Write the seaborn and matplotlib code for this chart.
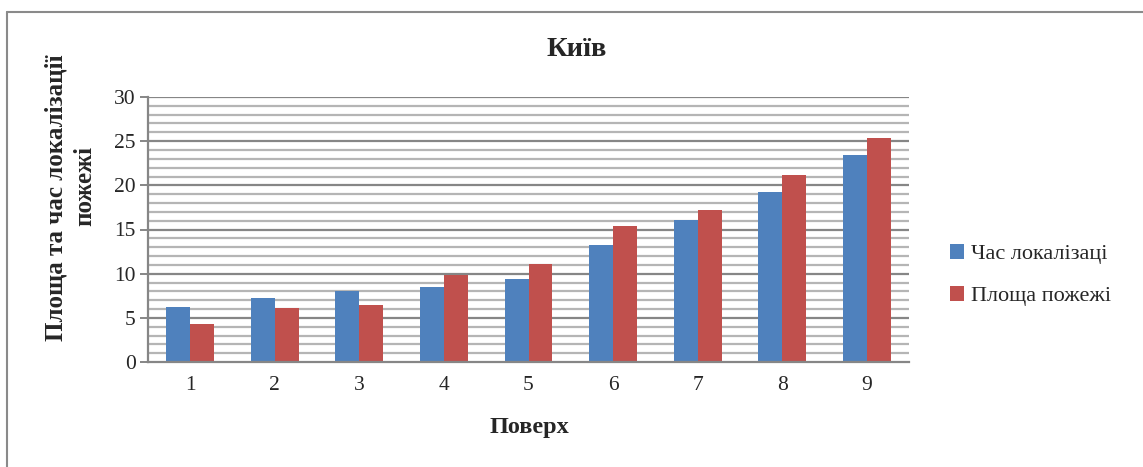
import matplotlib
matplotlib.use("Agg")
import matplotlib.pyplot as plt
import seaborn as sns
import pandas as pd
from matplotlib.lines import Line2D
from matplotlib.patches import Patch

floors = ["1", "2", "3", "4", "5", "6", "7", "8", "9"]
time_local = [6.2, 7.2, 8.0, 8.5, 9.4, 13.3, 16.1, 19.2, 23.4]
area_fire = [4.3, 6.1, 6.5, 9.8, 11.1, 15.4, 17.2, 21.2, 25.4]
series_names = ["Час локалізаці", "Площа пожежі"]
colors = ["#4F81BD", "#C0504D"]

df = pd.DataFrame({
    "floor": floors * 2,
    "value": time_local + area_fire,
    "series": [series_names[0]] * len(floors) + [series_names[1]] * len(floors),
})

sns.set_style("white")
plt.rcParams["font.family"] = ["Liberation Serif", "DejaVu Serif"]

fig = plt.figure(figsize=(11.43, 4.67), dpi=100)
ax = fig.add_axes([148 / 1143, 1 - 362 / 467, (909 - 148) / 1143, (362 - 97) / 467])

sns.barplot(data=df, x="floor", y="value", hue="series", palette=colors,
            width=0.567, gap=0, ax=ax, legend=False, edgecolor="none",
            saturation=1, zorder=3)

ax.set_ylim(0, 30)
ax.set_xlim(-0.5, 8.5)
ax.set_yticks(range(0, 31, 5))
ax.set_yticks(range(0, 31, 1), minor=True)
ax.grid(False)
for v in range(1, 31):
    if v % 5 == 0:
        ax.axhline(v, color="#868686", lw=1.6, zorder=1)
    else:
        ax.axhline(v, color="#b5b5b5", lw=1.6, zorder=1)

for s in ["top", "right"]:
    ax.spines[s].set_visible(False)
for s in ["left", "bottom"]:
    ax.spines[s].set_color("#868686")
    ax.spines[s].set_linewidth(1.6)
    ax.spines[s].set_zorder(4)

ax.tick_params(axis="y", which="major", direction="out", length=6, width=1.4,
               color="#868686", labelsize=15.5, pad=3, left=True)
ax.tick_params(axis="y", which="minor", length=0)
ax.tick_params(axis="x", length=0, labelsize=15.5, pad=10)

ax.set_xlabel("")
ax.set_ylabel("")
fig.text(529 / 1143, 1 - 428 / 467, "Поверх", ha="center", va="center",
         fontsize=17.5, fontweight="bold")
fig.text(56 / 1143, 1 - 198 / 467, "Площа та час локалізації", rotation=90,
         ha="center", va="center", fontsize=18, fontweight="bold")
fig.text(85 / 1143, 1 - 186 / 467, "пожежі", rotation=90,
         ha="center", va="center", fontsize=18, fontweight="bold")

fig.text(577 / 1143, 1 - 49 / 467, "Київ", ha="center", va="center",
         fontsize=20.5, fontweight="bold")

handles = [Patch(facecolor=c, edgecolor="none") for c in colors]
fig.legend(handles, series_names, loc="center left",
           bbox_to_anchor=(930 / 1143, 1 - 275 / 467), frameon=False,
           fontsize=16, handlelength=0.65, handleheight=0.65,
           handletextpad=0.3, labelspacing=1.0)

# chart frame
fig.add_artist(Line2D([7 / 1143, 1], [1 - 12 / 467, 1 - 12 / 467],
                      transform=fig.transFigure, color="#8a8a8a", lw=1.5))
fig.add_artist(Line2D([7 / 1143, 7 / 1143], [0, 1 - 12 / 467],
                      transform=fig.transFigure, color="#8a8a8a", lw=1.5))

fig.savefig("out.png", dpi=100)
